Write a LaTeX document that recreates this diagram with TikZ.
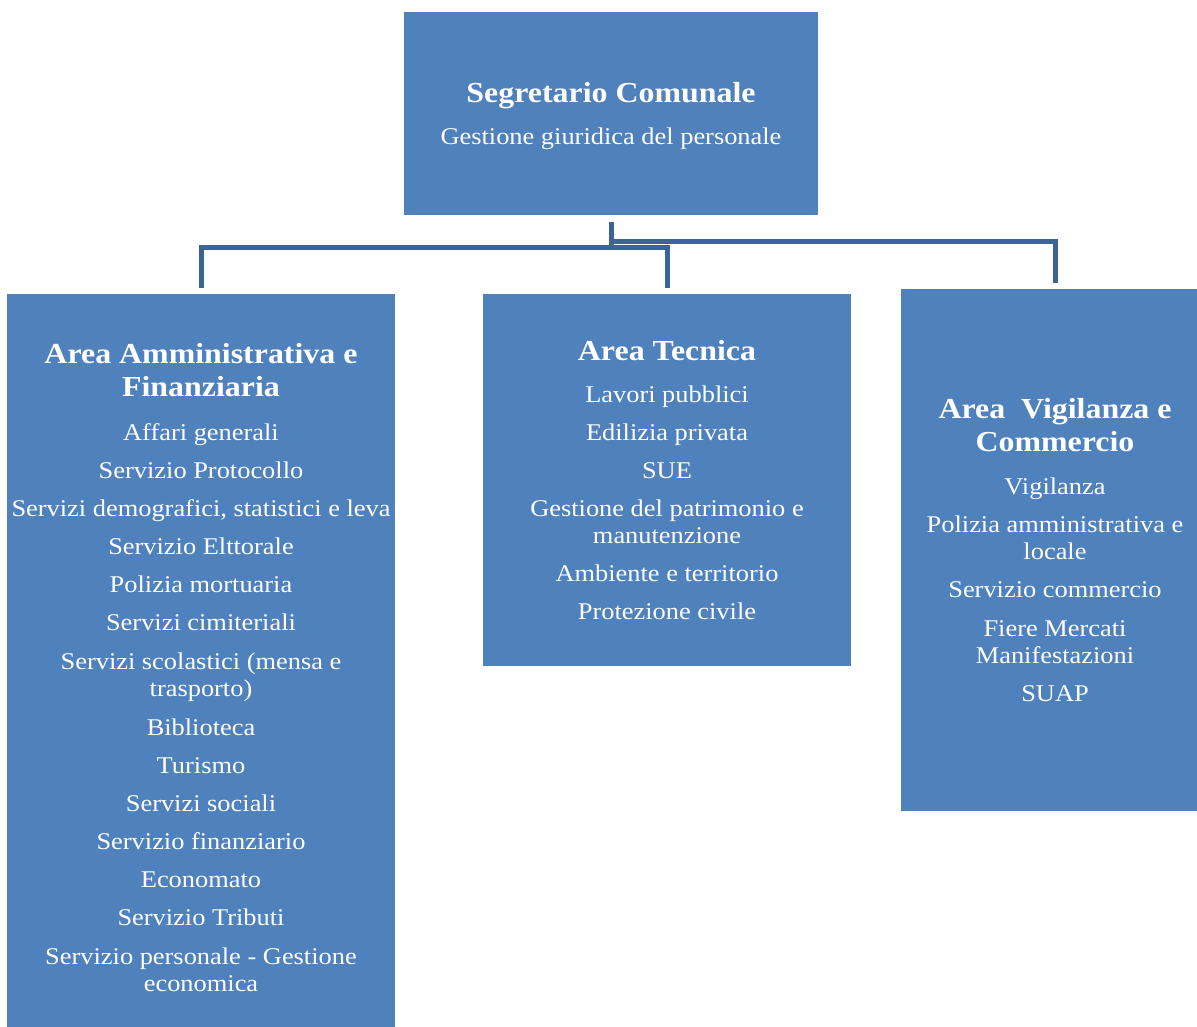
\documentclass[tikz,border=0pt]{standalone}
\usepackage{fontspec}
\setmainfont{Liberation Serif}[FakeStretch=1.1]
\usetikzlibrary{positioning}
\definecolor{boxblue}{HTML}{4F81BD}
\definecolor{lineblue}{HTML}{3C6496}
\newcommand{\tit}[1]{{\fontsize{29}{33}\selectfont\bfseries #1}}

\begin{document}
\begin{tikzpicture}[
      x=1pt, y=-1pt, %one unit = one pixel of the page
      area/.style={fill=boxblue, text=white, align=center, inner sep=0pt,
                   font=\fontsize{24}{27}\selectfont},
      conn/.style={draw=lineblue, line width=5pt, shorten <=7pt, shorten >=6pt}
    ]
    \useasboundingbox (0,0) rectangle (1197,1026);
    % Segretario
    \node[area, minimum width=414, minimum height=203] (seg) at (611,113.5)
      {\rule{0pt}{26pt}\tit{Segretario Comunale}\\[15pt]
       Gestione giuridica del personale};
    % Area amministrativa
    \node[area, minimum width=388, minimum height=748] (amm) at (201,668)
      {\tit{Area Amministrativa e}\\[6pt]
       \tit{Finanziaria}\\[17pt]
       Affari generali\\[11pt]
       Servizio Protocollo\\[11pt]
       Servizi demografici, statistici e leva\\[11pt]
       Servizio Elttorale\\[11pt]
       Polizia mortuaria\\[11pt]
       Servizi cimiteriali\\[12pt]
       Servizi scolastici (mensa e\\
       trasporto)\\[12pt]
       Biblioteca\\[11pt]
       Turismo\\[11pt]
       Servizi sociali\\[11pt]
       Servizio finanziario\\[11pt]
       Economato\\[11pt]
       Servizio Tributi\\[12pt]
       Servizio personale - Gestione\\
       economica};
    % Area tecnica
    \node[area, minimum width=368, minimum height=372] (tec) at (667,480)
      {\tit{Area Tecnica}\\[15pt]
       Lavori pubblici\\[11pt]
       Edilizia privata\\[11pt]
       SUE\\[11pt]
       Gestione del patrimonio e\\
       manutenzione\\[11pt]
       Ambiente e territorio\\[11pt]
       Protezione civile};
    % Area vigilanza
    \node[area, minimum width=308, minimum height=522] (vig) at (1055,550)
      {\tit{Area\ \ Vigilanza e}\\[6pt]
       \tit{Commercio}\\[16pt]
       Vigilanza\\[11pt]
       Polizia amministrativa e\\
       locale\\[11pt]
       Servizio commercio\\[12pt]
       Fiere Mercati\\
       Manifestazioni\\[11pt]
       SUAP};
    % Connectors
    \draw[conn] (seg.south) -- ++(0,32) -| (amm.north);
    \draw[conn] (seg.south) -- ++(0,32) -| (tec.north);
    \draw[conn] (seg.south) -- ++(0,26) -| (vig.north);
\end{tikzpicture}
\end{document}
